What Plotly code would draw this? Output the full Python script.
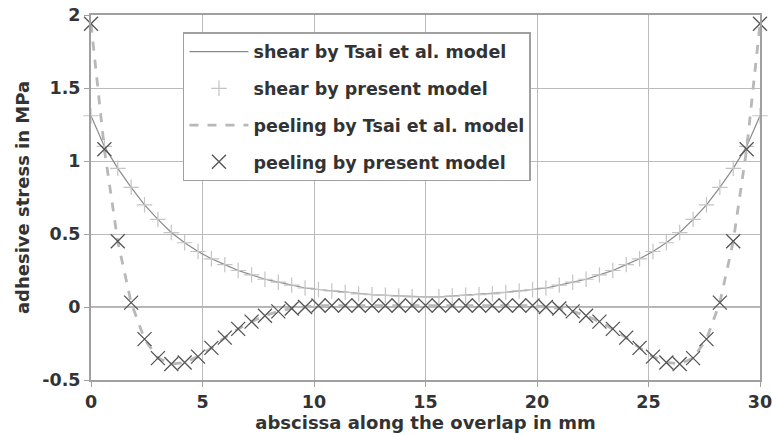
import plotly.graph_objects as go

x_mm = [round(i * 0.6, 1) for i in range(51)]

shear_half = [1.31, 1.10, 0.95, 0.82, 0.70, 0.60, 0.51, 0.44, 0.38, 0.33,
              0.29, 0.25, 0.22, 0.19, 0.17, 0.15, 0.13, 0.12, 0.11, 0.10,
              0.09, 0.085, 0.08, 0.075, 0.07, 0.07]
peel_half = [1.94, 1.08, 0.45, 0.03, -0.22, -0.35, -0.39, -0.38, -0.34, -0.28,
             -0.21, -0.15, -0.10, -0.06, -0.03, -0.01, 0.00, 0.01, 0.01, 0.01,
             0.01, 0.01, 0.01, 0.01, 0.01, 0.01]
shear = shear_half + shear_half[-2::-1]
peel = peel_half + peel_half[-2::-1]

x_ticks = [0, 5, 10, 15, 20, 25, 30]
y_ticks = [-0.5, 0, 0.5, 1, 1.5, 2]
y_tick_text = ["-0.5", "0", "0.5", "1", "1.5", "2"]

FONT = "DejaVu Sans"
TXT = "#333333"

fig = go.Figure()
fig.add_trace(go.Scatter(x=x_mm, y=shear, mode="lines", name="<b>shear by Tsai et al. model</b>",
                         line=dict(color="#8a8a8a", width=1.2), legendgroup="a", cliponaxis=False))
fig.add_trace(go.Scatter(x=x_mm, y=shear, mode="markers", name="<b>shear by present model</b>",
                         marker=dict(symbol="cross-thin-open", size=11, color="#c4c4c4",
                                     line=dict(color="#c4c4c4", width=1.2)),
                         legendgroup="b", cliponaxis=False))
fig.add_trace(go.Scatter(x=x_mm, y=peel, mode="lines", name="<b>peeling by Tsai et al. model</b>",
                         line=dict(color="#b8b8b8", width=2.8, dash="dash"), legendgroup="c", cliponaxis=False))
fig.add_trace(go.Scatter(x=x_mm, y=peel, mode="markers", name="<b>peeling by present model</b>",
                         marker=dict(symbol="x-thin-open", size=14, color="#555555",
                                     line=dict(color="#555555", width=1.3)),
                         legendgroup="d", cliponaxis=False))

axis_common = dict(showgrid=True, gridcolor="#bbbbbb", gridwidth=1,
                   showline=True, linecolor="#a0a0a0", linewidth=2, mirror=True,
                   ticks="outside", ticklen=5, tickcolor="#a0a0a0", automargin=False,
                   ticklabeloverflow="allow",
                   tickfont=dict(family=FONT, size=17.5, color=TXT), zeroline=False)

fig.update_layout(
    width=773, height=435,
    margin=dict(l=91, r=13, t=15, b=55),
    paper_bgcolor="white", plot_bgcolor="white",
    font=dict(family=FONT, color=TXT),
    xaxis=dict(range=[0, 30], tickvals=x_ticks, ticktext=[f"<b>{v}</b>" for v in x_ticks],
               title=dict(text="<b>abscissa along the overlap in mm</b>", font=dict(size=18, family=FONT, color=TXT), standoff=4),
               **axis_common),
    yaxis=dict(range=[-0.5, 2], tickvals=y_ticks, ticktext=[f"<b>{t}</b>" for t in y_tick_text],
               title=dict(text="<b>adhesive stress in MPa</b>", font=dict(size=18, family=FONT, color=TXT), standoff=8),
               **axis_common),
    legend=dict(x=0.1375, y=0.953, xanchor="left", yanchor="top",
                bgcolor="white", bordercolor="#a0a0a0", borderwidth=1.5,
                font=dict(family=FONT, size=17.5, color=TXT),
                itemwidth=59,
                traceorder="grouped", tracegroupgap=11),
    showlegend=True,
)
fig.add_hline(y=0, line=dict(color="#666666", width=1), layer="below")

fig.write_html("out.html", config={"displayModeBar": False},
               post_script="document.body.style.margin='0';document.body.style.overflow='hidden';")
